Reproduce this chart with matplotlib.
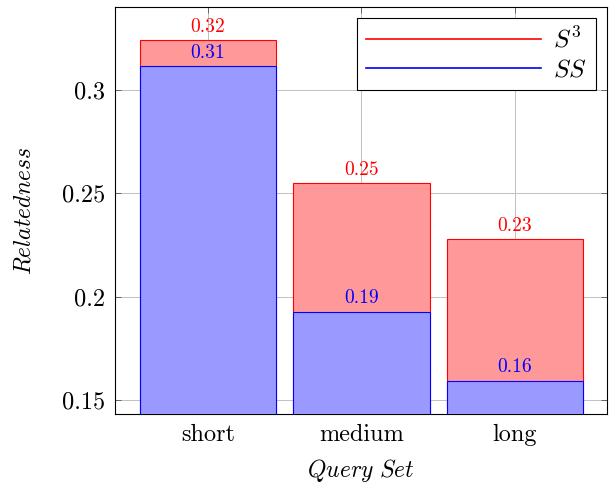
import numpy as np
import matplotlib
matplotlib.use('Agg')
import matplotlib.pyplot as plt

plt.rcParams['font.family'] = 'serif'
plt.rcParams['font.serif'] = ['cmr10', 'DejaVu Serif']
plt.rcParams['mathtext.fontset'] = 'cm'
plt.rcParams['axes.unicode_minus'] = False

# data
categories = ['short', 'medium', 'long']
s3_vals = [0.3242, 0.2548, 0.2277]
ss_vals = [0.3116, 0.1927, 0.1592]
s3_labels = ['0.32', '0.25', '0.23']
ss_labels = ['0.31', '0.19', '0.16']
y_ticks = [0.15, 0.2, 0.25, 0.3]
y_ticklabels = ['0.15', '0.2', '0.25', '0.3']

x = np.arange(len(categories))
width = 0.89

fig = plt.figure(figsize=(6.1, 4.87), dpi=100)
ax = fig.add_axes([0.1885, 0.150, 0.8065, 0.8356])

ax.bar(x, s3_vals, width, color='#ff9999', edgecolor='red', linewidth=0.8, zorder=2)
ax.bar(x, ss_vals, width, color='#9999ff', edgecolor='blue', linewidth=0.8, zorder=3)

for i in range(len(x)):
    ax.text(x[i], s3_vals[i] + 0.0022, s3_labels[i], color='red', ha='center', va='bottom',
            fontsize=14, zorder=4)
    ax.text(x[i], ss_vals[i] + 0.0022, ss_labels[i], color='blue', ha='center', va='bottom',
            fontsize=14, zorder=4)

# legend with plain lines, pgfplots style
ax.plot([], [], color='red', lw=1.2, label=r'$S^3$')
ax.plot([], [], color='blue', lw=1.2, label=r'$SS$')
leg = ax.legend(loc='upper right', fontsize=18, handlelength=7.0, frameon=True, fancybox=False,
                edgecolor='black', framealpha=1, borderpad=0.35, labelspacing=0.25,
                handletextpad=0.5, borderaxespad=0.45)
leg.get_frame().set_linewidth(0.8)

ax.set_xlim(-0.605, 2.6)
ax.set_ylim(0.1432, 0.3402)
ax.set_xticks(x)
ax.set_xticklabels(categories, fontsize=17.5)
ax.set_yticks(y_ticks)
ax.set_yticklabels(y_ticklabels, fontsize=17.5)
ax.tick_params(direction='in', top=True, right=True, length=4, width=0.6, color='#555555', pad=7)
ax.grid(True, color='#c0c0c0', linewidth=0.7, zorder=0)
ax.set_axisbelow(True)
for sp in ax.spines.values():
    sp.set_linewidth(0.8)

ax.set_xlabel(r'$Query\ Set$', fontsize=17, labelpad=8)
ax.set_ylabel(r'$Relatedness$', fontsize=17, labelpad=19)

fig.savefig('out.png', dpi=100)
